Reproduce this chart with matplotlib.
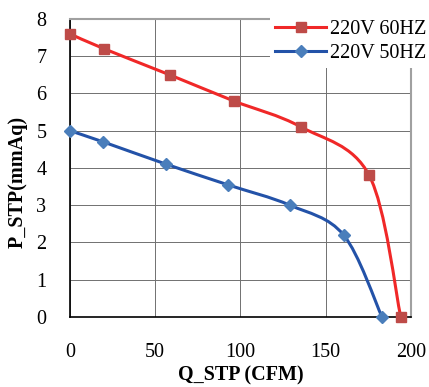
import numpy as np
from matplotlib import pyplot as plt
from matplotlib.path import Path
from matplotlib.patches import PathPatch
from matplotlib.lines import Line2D

# values
q_60 = [0, 20, 58.5, 96, 135.5, 175.5, 194]
p_60 = [7.6, 7.2, 6.5, 5.8, 5.1, 3.8, 0]
q_50 = [0, 19.5, 56.5, 92.5, 129, 160.5, 183]
p_50 = [5.0, 4.7, 4.1, 3.55, 3.0, 2.2, 0]
x_ticks = [0, 50, 100, 150, 200]
y_ticks = [0, 1, 2, 3, 4, 5, 6, 7, 8]

plt.rcParams['font.family'] = ['Liberation Serif', 'DejaVu Serif']
FS = 14.5


def smooth_path(xs, ys):
    # Excel-like smoothed line: cubic bezier segments through the data points
    pts = np.column_stack([xs, ys])
    n = len(pts)
    verts = [pts[0]]
    codes = [Path.MOVETO]
    for i in range(n - 1):
        p0 = pts[max(i - 1, 0)]
        p1 = pts[i]
        p2 = pts[i + 1]
        p3 = pts[min(i + 2, n - 1)]
        c1 = p1 + (p2 - p0) / 6
        c2 = p2 - (p3 - p1) / 6
        verts += [c1, c2, p2]
        codes += [Path.CURVE4] * 3
    return Path(verts, codes)


fig = plt.figure(figsize=(4.29, 3.87), dpi=100)
ax = fig.add_axes([0.163, 0.181, 0.795, 0.77])

series = [
    (q_60, p_60, '#F02828', '#BE4B48', 's', 6.5, '220V 60HZ'),
    (q_50, p_50, '#2352A8', '#4A7EBB', 'D', 6.5, '220V 50HZ'),
]
handles = []
for qs, ps, lc, mc, mk, ms, lab in series:
    ax.add_patch(PathPatch(smooth_path(qs, ps), facecolor='none', edgecolor=lc,
                           lw=2.2, zorder=3, clip_on=False))
    ax.plot(qs, ps, ls='none', marker=mk, ms=ms, color=mc, zorder=4, clip_on=False)
    handles.append(Line2D([], [], color=lc, lw=2.2, marker=mk, ms=ms,
                          markerfacecolor=mc, markeredgecolor=mc, label=lab))

ax.set_xlim(0, 200)
ax.set_ylim(0, 8)
ax.set_xticks(x_ticks)
ax.set_yticks(y_ticks)
ax.grid(True, color='#707070', lw=0.7)
ax.set_axisbelow(True)
ax.tick_params(length=0, labelsize=FS)
ax.tick_params(axis='x', pad=19)
ax.tick_params(axis='y', pad=17)
ax.spines['left'].set_color('black')
ax.spines['bottom'].set_color('black')
ax.spines['left'].set_linewidth(1.2)
ax.spines['bottom'].set_linewidth(1.2)
ax.spines['top'].set_color('#a0a0a0')
ax.spines['right'].set_color('#a0a0a0')
ax.spines['top'].set_linewidth(1.5)
ax.spines['right'].set_linewidth(1.5)

ax.set_xlabel('Q_STP (CFM)', fontsize=FS, fontweight='bold', labelpad=2)
ax.set_ylabel('P_STP(mmAq)', fontsize=FS, fontweight='bold')
ax.yaxis.set_label_coords(-0.125, 0.453)

leg = fig.legend(handles=handles, loc='upper right', bbox_to_anchor=(1.005, 0.962),
                 fontsize=FS, frameon=True, fancybox=False, framealpha=1,
                 handlelength=2.5, handletextpad=0.2, labelspacing=0.25,
                 borderpad=0.25, borderaxespad=0)
leg.get_frame().set_edgecolor('none')
leg.set_zorder(10)

fig.savefig('out.png', dpi=100)
